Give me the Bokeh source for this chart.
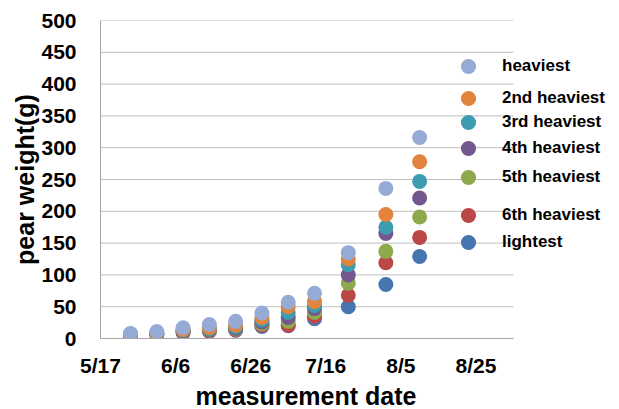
import pandas as pd
from bokeh.plotting import figure
from bokeh.models import (Range1d, FixedTicker, CustomJSTickFormatter, Legend, LegendItem, Title)
from bokeh.embed import file_html
from bokeh.resources import INLINE

# ---- data ----
dates = ["2013-05-25", "2013-06-01", "2013-06-08", "2013-06-15", "2013-06-22", "2013-06-29",
         "2013-07-06", "2013-07-13", "2013-07-22", "2013-08-01", "2013-08-10"]
heaviest = [8, 11, 17, 22, 27, 40, 57, 71, 135, 236, 316]
second   = [7, 9, 14, 17, 21, 33, 50, 58, 125, 195, 278]
third    = [6, 8, 13, 15, 18, 29, 41, 52, 116, 175, 247]
fourth   = [6, 8, 12, 14, 16, 26, 33, 47, 100, 165, 221]
fifth    = [5, 7, 11, 13, 15, 23, 27, 41, 87, 137, 191]
sixth    = [5, 7, 10, 12, 14, 21, 21, 35, 68, 119, 159]
lightest = [4, 6, 9, 11, 13, 19, 20, 31, 50, 85, 129]

series_names = ["heaviest", "2nd heaviest", "3rd heaviest", "4th heaviest",
                "5th heaviest", "6th heaviest", "lightest"]
series_values = [heaviest, second, third, fourth, fifth, sixth, lightest]
colors = ["#95ABD6", "#E2843D", "#3E9CB0", "#72588F", "#8DA94C", "#BC4747", "#4676AF"]

x_tick_dates = ["2013-05-17", "2013-06-06", "2013-06-26", "2013-07-16", "2013-08-05", "2013-08-25"]
x_start, x_axis_end = "2013-05-17", "2013-09-04"
y_ticks = [0, 50, 100, 150, 200, 250, 300, 350, 400, 450, 500]
x_title = "measurement date"
y_title = "pear weight(g)"

FONT = "Liberation Sans"

# layout: plot area from x=100 to 513; the frame is widened to the right edge so the
# legend (which sits partly outside the plot area) is not clipped
AXIS_PX = 413
FRAME_PX = 519
t0 = pd.Timestamp(x_start)
t_axis_end = pd.Timestamp(x_axis_end)
t_frame_end = t0 + (t_axis_end - t0) * (FRAME_PX / AXIS_PX)

x = pd.to_datetime(dates)

p = figure(width=619, height=409, x_axis_type="datetime",
           x_range=Range1d(t0, t_frame_end),
           y_range=Range1d(0, 500),
           output_backend="svg", toolbar_location=None,
           min_border_left=100, min_border_right=0, min_border_top=20, min_border_bottom=70)
p.outline_line_color = None
p.background_fill_color = "white"
p.border_fill_color = "white"

# horizontal gridlines limited to the plot area
n = len(y_ticks)
p.segment(x0=[t0] * n, y0=y_ticks, x1=[t_axis_end] * n, y1=y_ticks,
          line_color="#BFBFBF", line_width=1)

renderers = {}
# draw lightest first so heaviest ends on top
for name, vals, col in reversed(list(zip(series_names, series_values, colors))):
    r = p.scatter(x, vals, size=15, fill_color=col, line_color=None)
    renderers[name] = r

# axes
tick_ms = [pd.Timestamp(d).value / 1e6 for d in x_tick_dates]
p.xaxis.ticker = FixedTicker(ticks=tick_ms)
p.xaxis.formatter = CustomJSTickFormatter(code="""
const d = new Date(tick);
return (d.getUTCMonth() + 1) + "/" + d.getUTCDate();
""")
p.xaxis.bounds = (t0, t_axis_end)
p.yaxis.ticker = FixedTicker(ticks=y_ticks)

for ax in (p.xaxis[0], p.yaxis[0]):
    ax.axis_line_color = "#A6A6A6"
    ax.axis_line_width = 1
    ax.major_tick_line_color = None
    ax.minor_tick_line_color = None
    ax.major_label_text_font = FONT
    ax.major_label_text_font_style = "bold"
    ax.major_label_text_font_size = "21px"
    ax.major_label_text_color = "black"
    ax.axis_label_text_font = FONT
    ax.axis_label_text_font_style = "bold"
    ax.axis_label_text_font_size = "25px"
    ax.axis_label_text_color = "black"

p.yaxis.axis_label = y_title
p.xaxis.major_label_standoff = 9
p.yaxis.major_label_standoff = 18
p.yaxis.axis_label_standoff = -1

# x title placed under the middle of the plot area (not the widened frame)
p.add_layout(Title(text=x_title, align="left", offset=95,
                   standoff=0, text_font=FONT, text_font_style="bold",
                   text_font_size="25px", text_color="black"), "below")

p.xgrid.grid_line_color = None
p.ygrid.grid_line_color = None

# legend: one entry per Legend so that each can be placed like the reference
legend_cy = [67, 99, 123, 149, 178, 216, 243]   # screen y of each legend marker
frame_bottom = 339
for name, cy in zip(series_names, legend_cy):
    lg = Legend(items=[LegendItem(label=name, renderers=[renderers[name]])],
                location=(349, frame_bottom - cy - 19),
                glyph_width=38, glyph_height=38, padding=0, margin=0,
                label_standoff=15,
                label_text_font=FONT, label_text_font_style="bold",
                label_text_font_size="17px", label_text_color="black",
                background_fill_alpha=0, border_line_alpha=0)
    p.add_layout(lg)

open("out.html", "w").write(file_html(p, INLINE))
